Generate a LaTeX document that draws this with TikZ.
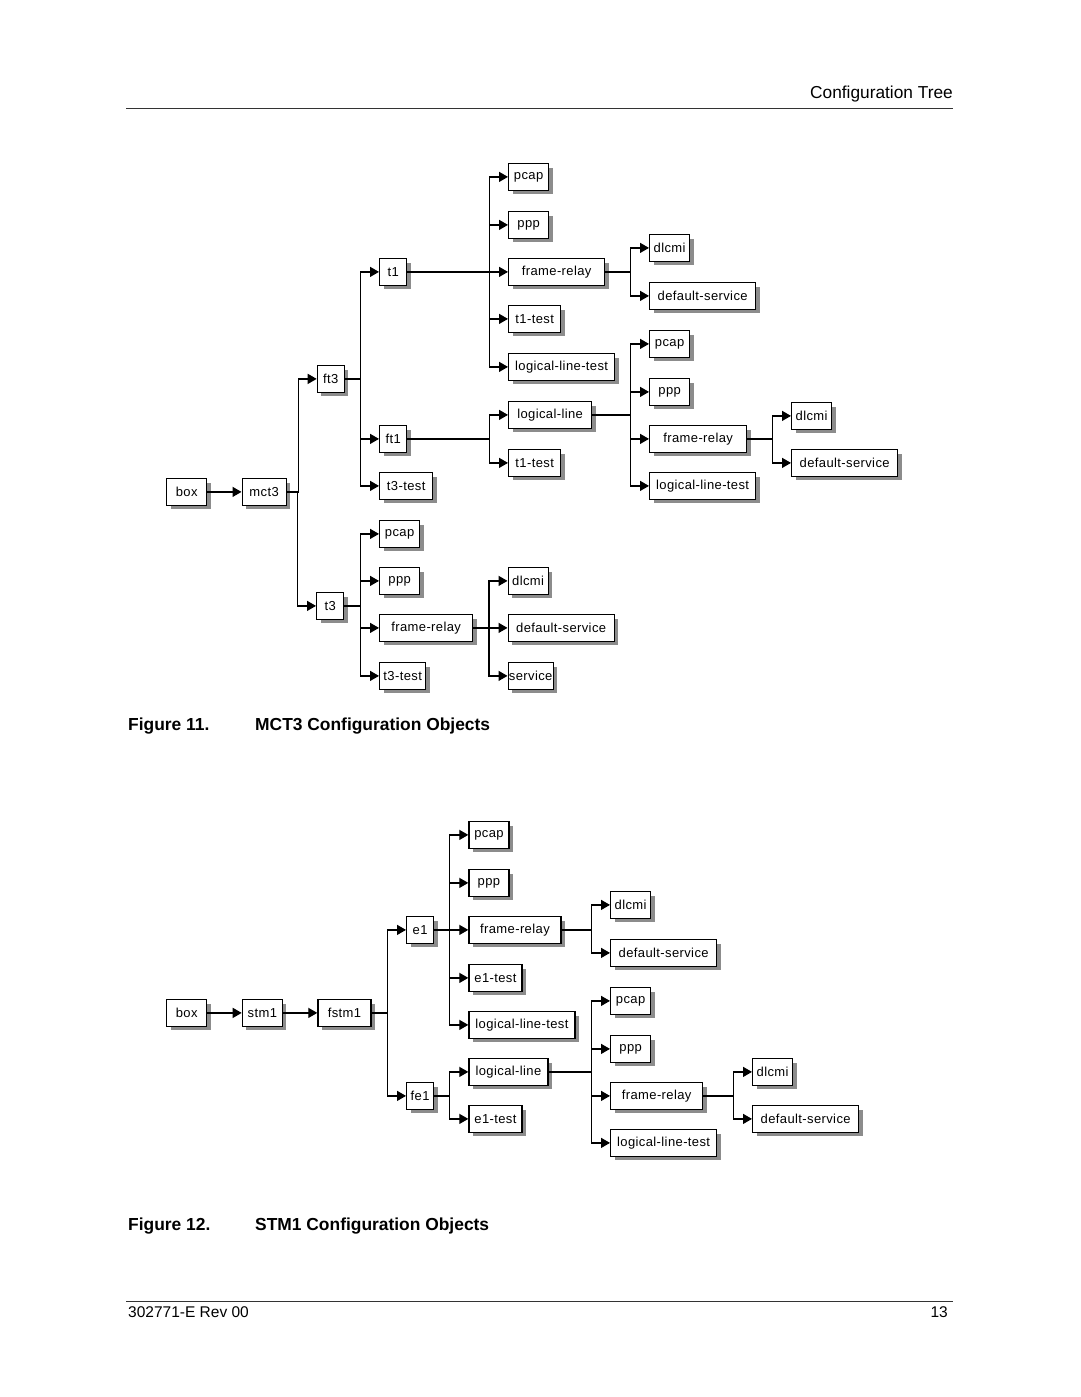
\documentclass[tikz,border=0pt]{standalone}
\usepackage{fontspec}
\setmainfont{Liberation Sans}
\newfontfamily\boxfont[LetterSpace=3]{Liberation Sans}
\usetikzlibrary{arrows.meta,shadows}
\tikzset{
  bx/.style={draw=black, line width=1.3pt, fill=white, inner sep=0pt,
    minimum height=26.5pt, anchor=north west, align=center,
    font=\boxfont\fontsize{13}{13}\selectfont,
    drop shadow={shadow xshift=4pt, shadow yshift=-4pt, fill=black!45, opacity=1}},
  arr/.style={line width=1.3pt, -{Triangle[length=9pt,width=10pt]}},
  rule/.style={line width=0.9pt, black!80},
}
\newcommand\bx[5]{\node[bx, minimum width=#4pt] (#1) at (#2,#3) {#5};}
\newcommand\lk[2]{\draw[arr] (#1.east) -| ([xshift=-18.5pt]#2.west) -- (#2.west);}
\begin{document}
\begin{tikzpicture}[x=1pt,y=-1pt]
\useasboundingbox (0,0) rectangle (1080,1397);
% header / footer
\node[anchor=base east, font=\fontsize{17.3}{20}\selectfont, inner sep=0] (hdr) at (953,98.3) {Configuration Tree};
\draw[rule] (126,108.5) coordinate (hr1) -- (953,108.5) coordinate (hr2);
\draw[rule] (126,1301) coordinate (fr1) -- (953,1301) coordinate (fr2);
\node[anchor=base west, font=\fontsize{15.5}{18}\selectfont, inner sep=0] (ftl) at (128,1317.5) {302771-E Rev 00};
\node[anchor=base east, font=\fontsize{15.5}{18}\selectfont, inner sep=0] (ftr) at (948,1317.5) {13};
% captions
\node[anchor=base west, font=\bfseries\fontsize{17.4}{20}\selectfont, inner sep=0] (c11a) at (128,730) {Figure 11.};
\node[anchor=base west, font=\bfseries\fontsize{17.4}{20}\selectfont, inner sep=0] (c11b) at (255,730) {MCT3 Configuration Objects};
\node[anchor=base west, font=\bfseries\fontsize{17.4}{20}\selectfont, inner sep=0] (c12a) at (128,1230) {Figure 12.};
\node[anchor=base west, font=\bfseries\fontsize{17.4}{20}\selectfont, inner sep=0] (c12b) at (255,1230) {STM1 Configuration Objects};

% ---------------- Figure 11 ----------------
\bx{box}{166}{478}{40}{box}
\bx{mct}{241.5}{478}{44}{mct3}
\bx{ftt}{316.7}{365}{27}{ft3}
\bx{tt}{316}{592}{27}{t3}
\bx{ta}{379}{258}{27}{t1}
\bx{fta}{379}{425}{27}{ft1}
\bx{ttest}{379}{472}{53}{t3-test}
\bx{tpcap}{379}{520}{40}{pcap}
\bx{tppp}{379}{567}{40}{ppp}
\bx{tfr}{379}{614}{93}{frame-relay}
\bx{ttest2}{379}{662}{46}{t3-test}
\bx{apcap}{508}{163}{40}{pcap}
\bx{appp}{508}{211}{40}{ppp}
\bx{afr}{508}{258}{96}{frame-relay}
\bx{atest}{508}{305}{52}{t1-test}
\bx{allt}{508}{353}{106}{logical-line-test}
\bx{adl}{649}{234}{40}{dlcmi}
\bx{ads}{649}{282}{106}{default-service}
\bx{bll}{508}{401}{83}{logical-line}
\bx{btest}{508}{449}{52}{t1-test}
\bx{bpcap}{649}{330}{40}{pcap}
\bx{bppp}{649}{378}{40}{ppp}
\bx{bfr}{649}{425}{97}{frame-relay}
\bx{bllt}{649}{472}{106}{logical-line-test}
\bx{bdl}{791}{402}{40}{dlcmi}
\bx{bds}{791}{449}{106}{default-service}
\bx{tdl}{507.5}{567}{40}{dlcmi}
\bx{tds}{507.5}{614}{106}{default-service}
\bx{tsv}{507.5}{662}{45}{service}

\draw[arr] (box) -- (mct);
\lk{mct}{ftt} \lk{mct}{tt}
\lk{ftt}{ta} \lk{ftt}{fta} \lk{ftt}{ttest}
\lk{ta}{apcap} \lk{ta}{appp} \lk{ta}{afr} \lk{ta}{atest} \lk{ta}{allt}
\lk{afr}{adl} \lk{afr}{ads}
\lk{fta}{bll} \lk{fta}{btest}
\lk{bll}{bpcap} \lk{bll}{bppp} \lk{bll}{bfr} \lk{bll}{bllt}
\lk{bfr}{bdl} \lk{bfr}{bds}
\lk{tt}{tpcap} \lk{tt}{tppp} \lk{tt}{tfr} \lk{tt}{ttest2}
\lk{tfr}{tdl} \lk{tfr}{tds} \lk{tfr}{tsv}

% ---------------- Figure 12 ----------------
\bx{sbox}{166}{999}{40}{box}
\bx{stm}{241.7}{999}{40}{stm1}
\bx{fstm}{317.3}{999}{53}{fstm1}
\bx{ea}{406}{916}{27}{e1}
\bx{fea}{406}{1082}{27}{fe1}
\bx{cpcap}{468.3}{821}{40}{pcap}
\bx{cppp}{468.3}{869}{40}{ppp}
\bx{cfr}{468.3}{916}{92}{frame-relay}
\bx{ctest}{468.3}{964}{53}{e1-test}
\bx{cllt}{468.3}{1011}{106}{logical-line-test}
\bx{cdl}{610}{891}{40}{dlcmi}
\bx{cds}{610}{939}{106}{default-service}
\bx{dll}{468.3}{1058}{79}{logical-line}
\bx{dtest}{468.3}{1105}{53}{e1-test}
\bx{dpcap}{610}{987}{40}{pcap}
\bx{dppp}{610}{1035}{40}{ppp}
\bx{dfr}{610}{1082}{92}{frame-relay}
\bx{dllt}{610}{1129}{106}{logical-line-test}
\bx{ddl}{752}{1058}{40}{dlcmi}
\bx{dds}{752}{1105}{106}{default-service}

\draw[arr] (sbox) -- (stm);
\draw[arr] (stm) -- (fstm);
\lk{fstm}{ea} \lk{fstm}{fea}
\lk{ea}{cpcap} \lk{ea}{cppp} \lk{ea}{cfr} \lk{ea}{ctest} \lk{ea}{cllt}
\lk{cfr}{cdl} \lk{cfr}{cds}
\lk{fea}{dll} \lk{fea}{dtest}
\lk{dll}{dpcap} \lk{dll}{dppp} \lk{dll}{dfr} \lk{dll}{dllt}
\lk{dfr}{ddl} \lk{dfr}{dds}
\end{tikzpicture}
\end{document}
